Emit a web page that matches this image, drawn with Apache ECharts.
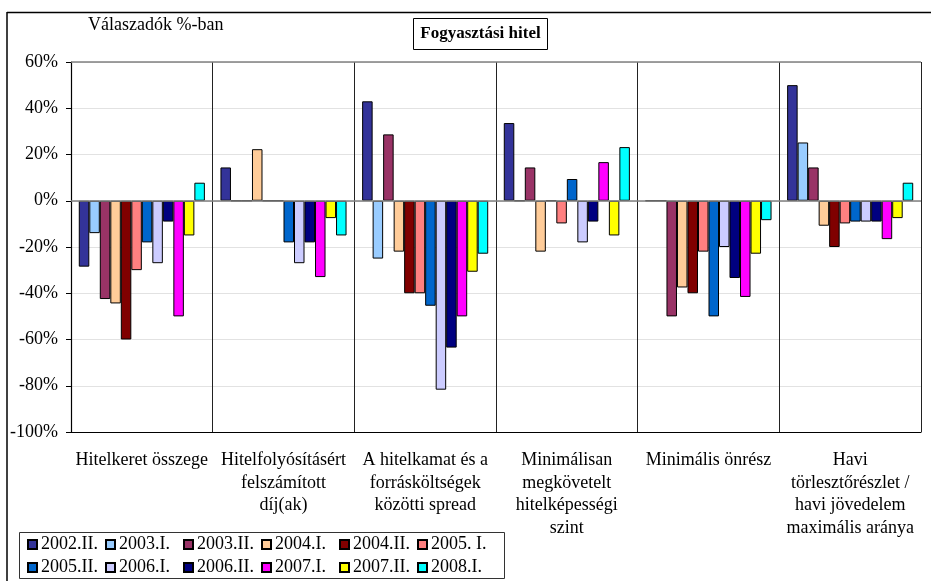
<!DOCTYPE html>
<html>
<head>
<meta charset="utf-8">
<script src="https://cdn.jsdelivr.net/npm/echarts@6/dist/echarts.min.js"></script>
<style>
html,body{margin:0;padding:0;background:#fff;}
#chart{width:936px;height:581px;}
</style>
</head>
<body>
<div id="chart"></div>
<script>
var categories = [
  "Hitelkeret összege",
  "Hitelfolyósításért\nfelszámított\ndíj(ak)",
  "A hitelkamat és a\nforrásköltségek\nközötti spread",
  "Minimálisan\nmegkövetelt\nhitelképességi\nszint",
  "Minimális önrész",
  "Havi\ntörlesztőrészlet /\nhavi jövedelem\nmaximális aránya"
];
var seriesNames = ["2002.II.","2003.I.","2003.II.","2004.I.","2004.II.","2005. I.","2005.II.","2006.I.","2006.II.","2007.I.","2007.II.","2008.I."];
var seriesColors = ["#333399","#99CCFF","#993366","#FFCC99","#800000","#FF8080","#0066CC","#CCCCFF","#000080","#FF00FF","#FFFF00","#00FFFF"];
// values in percent, one array per survey period, ordered by category
var v2002II = [-28.5, 14.4, 43, 33.6, 0, 50];
var v2003I  = [-14, 0, -25, 0, 0, 25.2];
var v2003II = [-42.5, 0, 28.7, 14.4, -50, 14.4];
var v2004I  = [-44.4, 22.3, -22, -22, -37.5, -10.8];
var v2004II = [-60, 0, -40, 0, -40, -20];
var v2005I  = [-30, 0, -40, -9.8, -22, -9.8];
var v2005II = [-18, -18, -45.4, 9.4, -50, -9];
var v2006I  = [-27, -27, -81.7, -18, -20, -9];
var v2006II = [-9, -18, -63.5, -9, -33.4, -9];
var v2007I  = [-50, -33, -50, 16.7, -41.6, -16.6];
var v2007II = [-15, -7.5, -30.7, -15, -22.9, -7.5];
var v2008I  = [7.8, -15, -22.9, 23.2, -8.4, 7.8];
var allValues = [v2002II,v2003I,v2003II,v2004I,v2004II,v2005I,v2005II,v2006I,v2006II,v2007I,v2007II,v2008I];
var yTicks = {min:-100, max:60, interval:20};

var FONT = "Liberation Serif, Times New Roman, serif";
var series = seriesNames.map(function(n,i){
  var s = {
    name:n, type:'bar', data:allValues[i],
    barGap:'0%', barCategoryGap:'11%',
    itemStyle:{color:seriesColors[i], borderColor:'#000', borderWidth:1},
    emphasis:{disabled:true}
  };
  if(i===0){
    s.markLine = {silent:true, symbol:'none', label:{show:false},
      lineStyle:{color:'#808080', width:1.5, type:'solid'},
      data:[{yAxis:0},{yAxis:60}]};
  }
  return s;
});

var chart = echarts.init(document.getElementById('chart'));
chart.setOption({
  animation:false,
  backgroundColor:'#fff',
  grid:{left:71, right:15, top:62, bottom:149},
  legend:{
    data:seriesNames, left:27, top:533, width:480, orient:'horizontal', padding:0,
    itemWidth:9, itemHeight:9, itemGap:0, icon:'rect',
    textStyle:{fontFamily:FONT, fontSize:18, color:'#000', width:64, lineHeight:23, padding:[0,0,0,-1]},
    selectedMode:false
  },
  xAxis:{
    type:'category', data:categories,
    axisLine:{onZero:false, lineStyle:{color:'#000', width:1.2}},
    axisTick:{show:false},
    splitLine:{show:true, lineStyle:{color:'#222', width:1}},
    axisLabel:{interval:0, fontFamily:FONT, fontSize:18, color:'#000', lineHeight:22.6, margin:17, align:'center', verticalAlign:'top'}
  },
  yAxis:{
    type:'value', min:yTicks.min, max:yTicks.max, interval:yTicks.interval,
    axisLine:{show:true, lineStyle:{color:'#000', width:1.2}},
    axisTick:{show:true, inside:false, length:5, lineStyle:{color:'#000'}},
    splitLine:{show:true, lineStyle:{color:'#e2e2e2', width:1}},
    axisLabel:{formatter:'{value}%', fontFamily:FONT, fontSize:18, color:'#000', margin:13}
  },
  graphic:[
    {type:'line', shape:{x1:7,y1:12.5,x2:931,y2:12.5}, style:{stroke:'#000', lineWidth:1.5}},
    {type:'line', shape:{x1:7,y1:12,x2:7,y2:581}, style:{stroke:'#000', lineWidth:1.5}},
    {type:'rect', shape:{x:19.5,y:532.5,width:485,height:46}, style:{fill:'none', stroke:'#333', lineWidth:1}},
    {type:'rect', shape:{x:413.5,y:18.5,width:134,height:31}, style:{fill:'#fff', stroke:'#000', lineWidth:1}},
    {type:'text', x:480.5, y:34, style:{text:'Fogyasztási hitel', font:'bold 17px '+FONT, fill:'#000', textAlign:'center', textVerticalAlign:'middle'}},
    {type:'text', x:88, y:25, style:{text:'Válaszadók %-ban', font:'18px '+FONT, fill:'#000', textAlign:'left', textVerticalAlign:'middle'}}
  ],
  series:series
});
</script>
</body>
</html>
